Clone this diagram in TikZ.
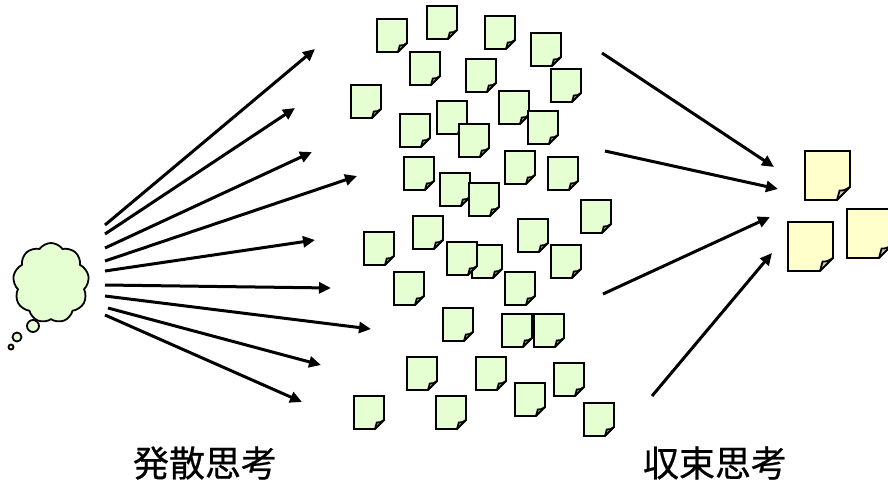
\documentclass[tikz,border=0pt]{standalone}
\usepackage{fontspec}
\newfontfamily\jp[FakeBold=0.6]{Noto Sans CJK JP}
\usetikzlibrary{arrows.meta,shapes.symbols}
\definecolor{gfill}{HTML}{E6FFD2}
\definecolor{gfold}{HTML}{C4CCAC}
\definecolor{yfill}{HTML}{FFFFCC}
\definecolor{yfold}{HTML}{D4D2AE}
\tikzset{
  arr/.style={line width=3pt,-{Triangle[length=12pt,width=11pt]}},
  notebody/.style={draw=black,line width=1.8pt,line join=miter},
  gnote/.pic={
    \fill[gfill] (0,0) -- (30,0) -- (30,24) -- (21,33) -- (0,33) -- cycle;
    \draw[notebody,fill=gfold] (21,33) .. controls (22,30) .. (22.8,26.5) .. controls (26,26.5) .. (30,24);
    \draw[notebody] (0,0) -- (30,0) -- (30,24) -- (21,33) -- (0,33) -- cycle;
  },
  ynote/.pic={
    \fill[yfill] (0,0) -- (45,0) -- (45,36) -- (32,49) -- (0,49) -- cycle;
    \draw[notebody,fill=yfold] (32,49) .. controls (33.5,44) .. (34.6,39.5) .. controls (39,39.5) .. (45,36);
    \draw[notebody] (0,0) -- (45,0) -- (45,36) -- (32,49) -- (0,49) -- cycle;
  },
  bubble/.style={draw=black,line width=1.8pt,fill=gfill},
  label/.style={font=\jp\fontsize{36}{40}\selectfont,inner sep=0pt}
}
\begin{document}
\begin{tikzpicture}[x=1pt,y=-1pt]
\useasboundingbox (0,0) rectangle (888,485);
% thought cloud
\node[cloud,cloud puffs=9,cloud puff arc=110,aspect=0.95,draw=black,line width=1.8pt,fill=gfill,
      minimum width=76pt,minimum height=80pt,inner sep=0pt] (cloud) at (51,283) {};
\node[circle,bubble,minimum size=12pt,inner sep=0pt] (b1) at (33,326) {};
\node[circle,bubble,minimum size=9pt,inner sep=0pt] (b2) at (17,337) {};
\node[circle,bubble,minimum size=5pt,inner sep=0pt] (b3) at (11,347) {};
% divergent arrows
\foreach \i/\sx/\sy/\ex/\ey in {1/105/225/315/49, 2/105/234/295/108, 3/105/248/312/152,
   4/105/261/357/176, 5/105/271/315/240, 6/105/285/331/288, 7/105/296/371/329,
   8/108/308/321/365, 9/105/315/302/402}{
  \coordinate (s\i) at (\sx,\sy);
  \coordinate (e\i) at (\ex,\ey);
  \draw[arr] (s\i) -- (e\i);
}
% green notes
\foreach \x/\y in {377/19,427/6,485/16,531/33,410/52,466/59,551/69,351/85,499/91,
   437/101,528/111,400/114,459/124,505/151,404/157,548/157,440/173,469/183,581/200,
   413/216,364/232,518/219,472/245,447/242,551/245,394/272,505/272,443/308,502/314,
   534/314,407/357,476/357,554/363,515/383,354/396,436/396,584/403}{
  \pic at (\x,\y) {gnote};
}
% convergent arrows
\foreach \i/\sx/\sy/\ex/\ey in {1/602/53/774/167, 2/605/151/778/189,
   3/603/294/770/217, 4/652/396/772/253}{
  \coordinate (r\i) at (\sx,\sy);
  \coordinate (t\i) at (\ex,\ey);
  \draw[arr] (r\i) -- (t\i);
}
% yellow notes
\pic at (805,151) {ynote};
\pic at (788,222) {ynote};
\pic at (847,209) {ynote};
% labels
\node[label] (div) at (205,463) {発散思考};
\node[label] (conv) at (715,463) {収束思考};
\end{tikzpicture}
\end{document}
